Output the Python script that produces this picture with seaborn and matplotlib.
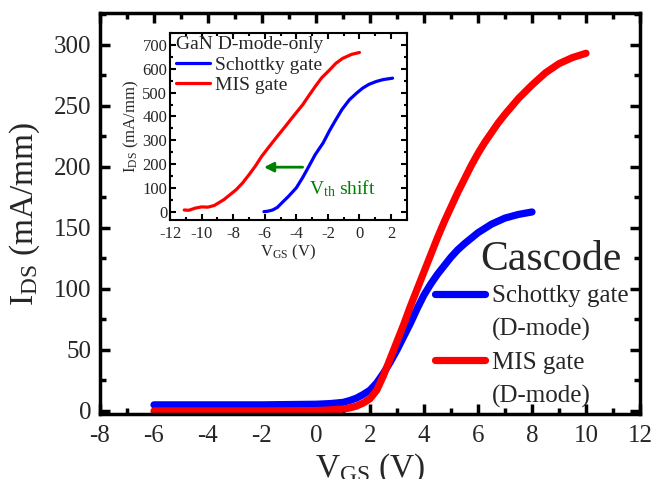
import numpy as np
import pandas as pd
import matplotlib
matplotlib.use("Agg")
import matplotlib.pyplot as plt
import seaborn as sns
from matplotlib.lines import Line2D
from matplotlib.ticker import MultipleLocator

# ---------------- data (main: cascode) ----------------
cas_schottky_vgs = [-6, -4, -2, 0, 0.5, 1, 1.25, 1.5, 1.75, 2, 2.25, 2.5, 2.75, 3, 3.25, 3.5,
                    3.75, 4, 4.25, 4.5, 4.75, 5, 5.25, 5.5, 6, 6.5, 7, 7.5, 8]
cas_schottky_ids = [5, 5, 5, 5.5, 6, 7, 8.5, 10.5, 13.5, 17, 23, 31, 40, 50, 61, 72,
                    84, 95, 104, 112, 119, 126, 132, 137, 146, 153, 158, 161, 163]

cas_mis_vgs = [-6, -4, -2, 0, 0.5, 1, 1.25, 1.5, 1.75, 2, 2.25, 2.5, 2.75, 3, 3.25, 3.5, 3.75,
               4, 4.25, 4.5, 4.75, 5, 5.25, 5.5, 5.75, 6, 6.25, 6.5, 6.75, 7, 7.5, 8, 8.5, 9,
               9.5, 10]
cas_mis_ids = [0, 0, 0, 0.3, 0.8, 1.5, 2.5, 4, 6.5, 10, 17, 29, 43, 57, 71, 86, 100,
               114, 128, 142, 155, 167, 179, 190, 201, 211, 220, 228, 236, 243, 256, 267, 277,
               284.5, 289.5, 293]

# ---------------- data (inset: GaN D-mode-only) ----------------
dm_schottky_vgs = [-6.05, -5.8, -5.5, -5.2, -4.9, -4.5, -4.0, -3.6, -3.2, -2.8, -2.3, -1.9, -1.5,
                   -1.1, -0.64, -0.2, 0.2, 0.6, 1.06, 1.5, 2.1]
dm_schottky_ids = [0, 2, 7, 18, 38, 64, 100, 143, 191, 240, 289, 340, 386, 430, 470, 497, 519,
                   535, 547, 555, 561]

dm_mis_vgs = [-11.1, -10.8, -10.4, -10.0, -9.6, -9.2, -8.9, -8.6, -8.3, -7.8, -7.4, -7.0, -6.6,
              -6.2, -5.7, -5.2, -4.7, -4.2, -3.6, -3.2, -2.8, -2.4, -1.9, -1.5, -1.07, -0.5, 0.0]
dm_mis_ids = [7, 6, 15, 20, 19, 26, 38, 50, 66, 93, 121, 155, 191, 232, 275, 317, 358, 400, 449,
              488, 526, 562, 595, 623, 644, 661, 669]

main_labels = ["Schottky gate", "(D-mode)", "MIS gate", "(D-mode)"]
inset_labels = ["Schottky gate", "MIS gate"]
inset_title = "GaN D-mode-only"
main_title = "Cascode"

BLUE = "#0000ff"
RED = "#ff0000"
GREEN = "#008000"

sns.set_theme(style="ticks")
plt.rcParams["font.family"] = ["Liberation Serif", "DejaVu Serif"]
plt.rcParams["mathtext.fontset"] = "custom"
plt.rcParams["mathtext.rm"] = "Liberation Serif"
plt.rcParams["axes.unicode_minus"] = False

fig = plt.figure(figsize=(6.54, 4.79), dpi=100)
ax = fig.add_axes([0.1529, 0.1357, 0.8257, 0.8372])

sns.lineplot(x=cas_schottky_vgs, y=cas_schottky_ids, ax=ax, color=BLUE, lw=5.2,
             solid_capstyle="round", solid_joinstyle="round", sort=False, estimator=None)
sns.lineplot(x=cas_mis_vgs, y=cas_mis_ids, ax=ax, color=RED, lw=5.2,
             solid_capstyle="round", solid_joinstyle="round", sort=False, estimator=None)

ax.set_xlim(-8, 12)
ax.set_ylim(-2.5, 326)
ax.xaxis.set_major_locator(MultipleLocator(2))
ax.xaxis.set_minor_locator(MultipleLocator(1))
ax.yaxis.set_major_locator(MultipleLocator(50))
ax.yaxis.set_minor_locator(MultipleLocator(25))
ax.tick_params(which="both", direction="in", top=True, right=True, width=2.5, color="black")
ax.tick_params(which="major", length=7, labelsize=18)
ax.tick_params(axis="x", which="major", pad=8)
ax.tick_params(axis="y", which="major", pad=6)
ax.tick_params(which="minor", length=4)
for s in ax.spines.values():
    s.set_linewidth(2.5)
    s.set_color("black")
ax.set_xlabel(r"$\mathregular{V_{GS}}$ (V)", fontsize=24, labelpad=3)
ax.set_ylabel(r"$\mathregular{I_{DS}}$ (mA/mm)", fontsize=24, labelpad=9)

handles = [Line2D([], [], color=BLUE, lw=5.2, solid_capstyle="round"),
           Line2D([], [], color="none"),
           Line2D([], [], color=RED, lw=5.2, solid_capstyle="round"),
           Line2D([], [], color="none")]
ax.legend(handles, main_labels, loc="upper left", bbox_to_anchor=(0.621, 0.322),
          frameon=False, fontsize=18, handlelength=2.0, handletextpad=0.25,
          labelspacing=0.42, borderpad=0, borderaxespad=0)
ax.text(0.704, 0.384, main_title, transform=ax.transAxes, fontsize=30, va="center", ha="left")

# ---------------- inset ----------------
axin = fig.add_axes([0.260, 0.5407, 0.362, 0.390])
axin.set_facecolor("white")
sns.lineplot(x=dm_schottky_vgs, y=dm_schottky_ids, ax=axin, color=BLUE, lw=2.3,
             solid_capstyle="round", solid_joinstyle="round", sort=False, estimator=None)
sns.lineplot(x=dm_mis_vgs, y=dm_mis_ids, ax=axin, color=RED, lw=2.3,
             solid_capstyle="round", solid_joinstyle="round", sort=False, estimator=None)
axin.set_xlim(-12, 3)
axin.set_ylim(-35, 750)
axin.xaxis.set_major_locator(MultipleLocator(2))
axin.xaxis.set_minor_locator(MultipleLocator(1))
axin.yaxis.set_major_locator(MultipleLocator(100))
axin.yaxis.set_minor_locator(MultipleLocator(50))
axin.tick_params(which="both", direction="in", top=True, right=True, width=1.5, color="black")
axin.tick_params(which="major", length=4, labelsize=12)
axin.tick_params(axis="y", which="major", pad=2)
axin.tick_params(axis="x", which="major", pad=4)
axin.tick_params(which="minor", length=2.5)
for s in axin.spines.values():
    s.set_linewidth(1.5)
    s.set_color("black")
axin.set_xlabel(r"$\mathregular{V_{GS}}$ (V)", fontsize=12, labelpad=1)
axin.set_ylabel(r"$\mathregular{I_{DS}}$ (mA/mm)", fontsize=12, labelpad=1)

in_handles = [Line2D([], [], color=BLUE, lw=2.3, solid_capstyle="round"),
              Line2D([], [], color=RED, lw=2.3, solid_capstyle="round")]
axin.legend(in_handles, inset_labels, title=inset_title, title_fontsize=14, fontsize=14,
            alignment="left", loc="upper left", bbox_to_anchor=(0.025, 0.985), frameon=False,
            handlelength=1.75, handletextpad=0.25, labelspacing=0.15, borderpad=0,
            borderaxespad=0)

axin.annotate("", xy=(-6.05, 187), xytext=(-3.6, 187),
              arrowprops=dict(arrowstyle="-|>", color=GREEN, lw=2, mutation_scale=14,
                              shrinkA=0, shrinkB=0))
axin.text(-3.2, 71, r"$\mathregular{V_{th}}$ shift", color=GREEN, fontsize=14,
          va="baseline", ha="left")

fig.savefig("out.png", dpi=100)
